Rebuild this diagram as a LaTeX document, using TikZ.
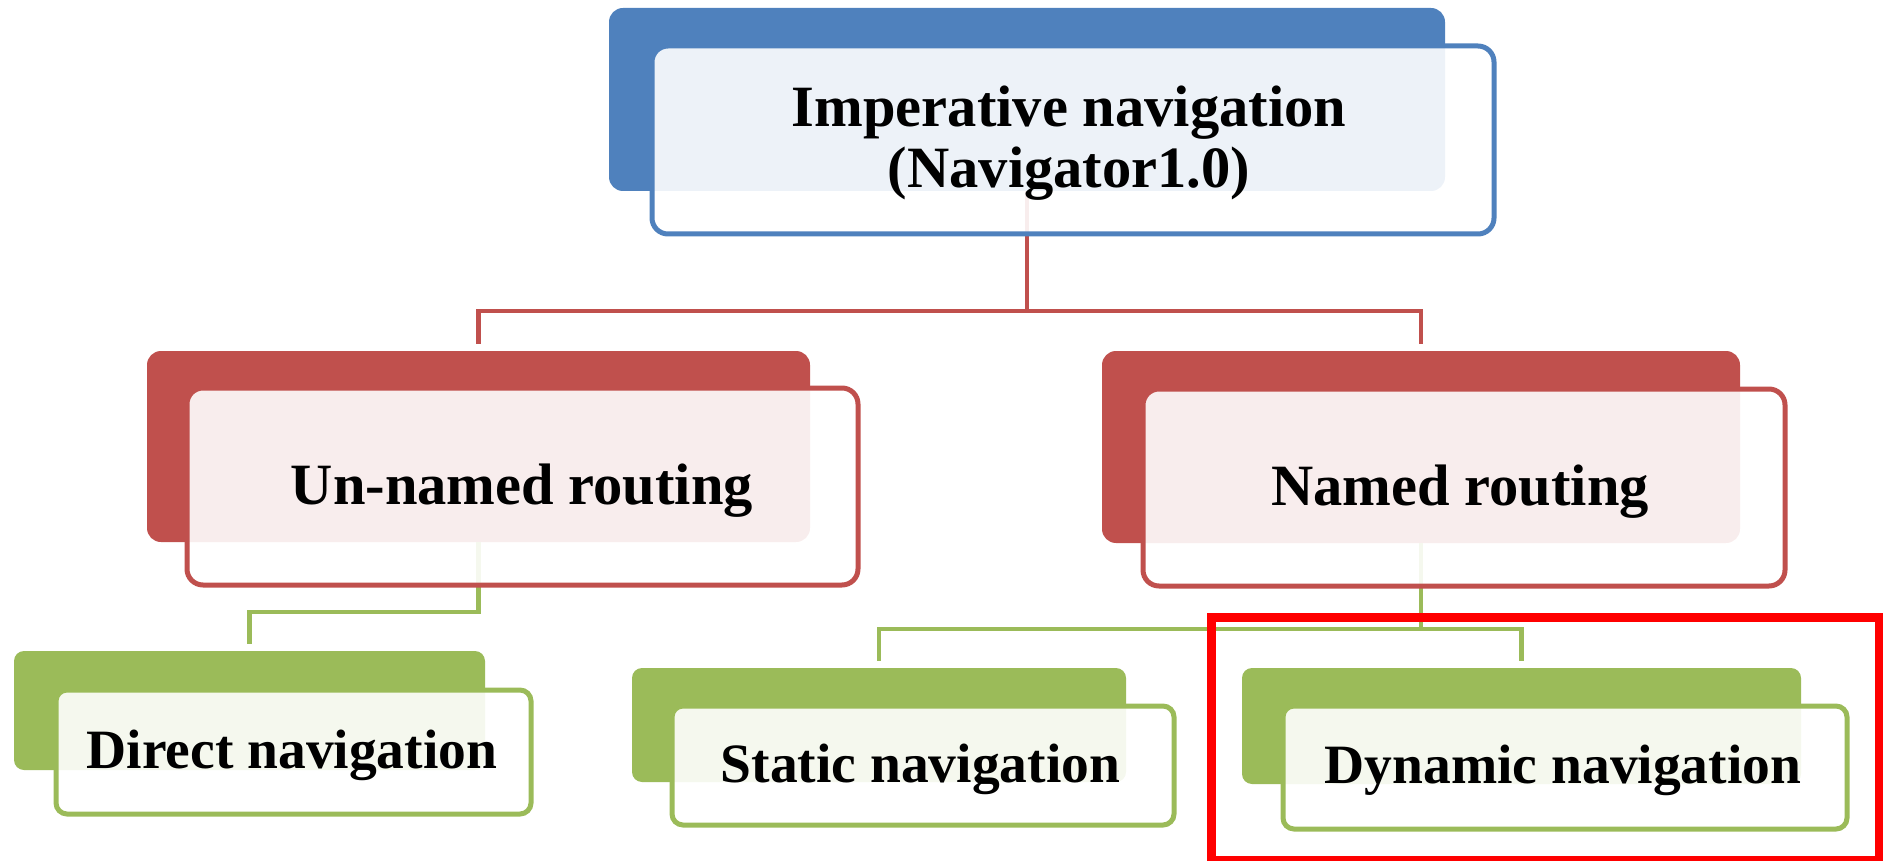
\documentclass[tikz,border=0pt]{standalone}
\usepackage{fontspec}
\setmainfont{Liberation Serif}
\definecolor{accblue}{RGB}{79,129,189}
\definecolor{accred}{RGB}{192,80,77}
\definecolor{accgreen}{RGB}{155,187,89}
\definecolor{hlred}{RGB}{255,0,0}
\tikzset{
  backbox/.style={fill=#1, draw=none, rounded corners=14pt, inner sep=0pt},
  frontbox/.style={draw=#1, line width=5pt, fill=white, fill opacity=0.9,
    rounded corners=16pt, inner sep=0pt},
  lblbig/.style={anchor=base, inner sep=0pt,
    font=\fontsize{58.5}{61}\selectfont\bfseries},
  lblsmall/.style={anchor=base, inner sep=0pt,
    font=\fontsize{55.5}{58}\selectfont\bfseries},
  conn/.style={draw=#1, line width=4.8pt},
  highlight/.style={draw=hlred, line width=9pt, inner sep=0pt}
}
\begin{document}
\begin{tikzpicture}[x=1pt,y=-1pt]
\useasboundingbox (0,0) rectangle (1883,861);

% back (solid) boxes
\node[backbox=accblue, minimum width=836pt, minimum height=183pt] (tb) at (1027,99.5) {};
\node[backbox=accred, minimum width=663pt, minimum height=191pt] (lb) at (478.5,446.5) {};
\node[backbox=accred, minimum width=638pt, minimum height=192pt] (rb) at (1421,447) {};
\node[backbox=accgreen, rounded corners=10pt, minimum width=471pt, minimum height=119pt] (db) at (249.5,710.5) {};
\node[backbox=accgreen, rounded corners=10pt, minimum width=494pt, minimum height=114pt] (sb) at (879,725) {};
\node[backbox=accgreen, rounded corners=10pt, minimum width=559pt, minimum height=116pt] (yb) at (1521.5,726) {};

% connectors
\coordinate (rj) at (1027,311);
\draw[conn=accred] (tb.south) -- (rj) -| ([yshift=7pt]lb.north);
\draw[conn=accred] (rj) -| ([yshift=7pt]rb.north);
\coordinate (gl) at (478.5,612);
\draw[conn=accgreen] (lb.south) -- (gl) -| ([yshift=7pt]db.north);
\coordinate (gr) at (1421,629);
\draw[conn=accgreen] (rb.south) -- (gr) -| ([yshift=7pt]sb.north);
\draw[conn=accgreen] (gr) -| ([yshift=7pt]yb.north);

% front (outlined) boxes
\node[frontbox=accblue, minimum width=842pt, minimum height=188pt] (tf) at (1073,140) {};
\node[frontbox=accred, minimum width=671pt, minimum height=197pt] (lf) at (522.5,486.5) {};
\node[frontbox=accred, minimum width=642pt, minimum height=197pt] (rf) at (1464,487.5) {};
\node[frontbox=accgreen, rounded corners=11pt, minimum width=475pt, minimum height=124pt] (df) at (293.5,752) {};
\node[frontbox=accgreen, rounded corners=11pt, minimum width=502pt, minimum height=119pt] (sf) at (923,765.5) {};
\node[frontbox=accgreen, rounded corners=11pt, minimum width=564pt, minimum height=123pt] (yf) at (1565,767.5) {};

% labels
\node[lblbig] (t1) at (1069,127) {Imperative navigation};
\node[lblbig] (t2) at (1069,188) {(Navigator1.0)};
\node[lblbig] (ut) at (522,504) {Un-named routing};
\node[lblbig] (nt) at (1460,505) {Named routing};
\node[lblsmall] (dt) at (292,768) {Direct navigation};
\node[lblsmall] (st) at (920.5,782) {Static navigation};
\node[lblsmall] (yt) at (1563,783) {Dynamic navigation};

% highlight frame
\node[highlight, minimum width=667.5pt, minimum height=242.5pt] (hl) at (1545.25,738.75) {};
\end{tikzpicture}
\end{document}
